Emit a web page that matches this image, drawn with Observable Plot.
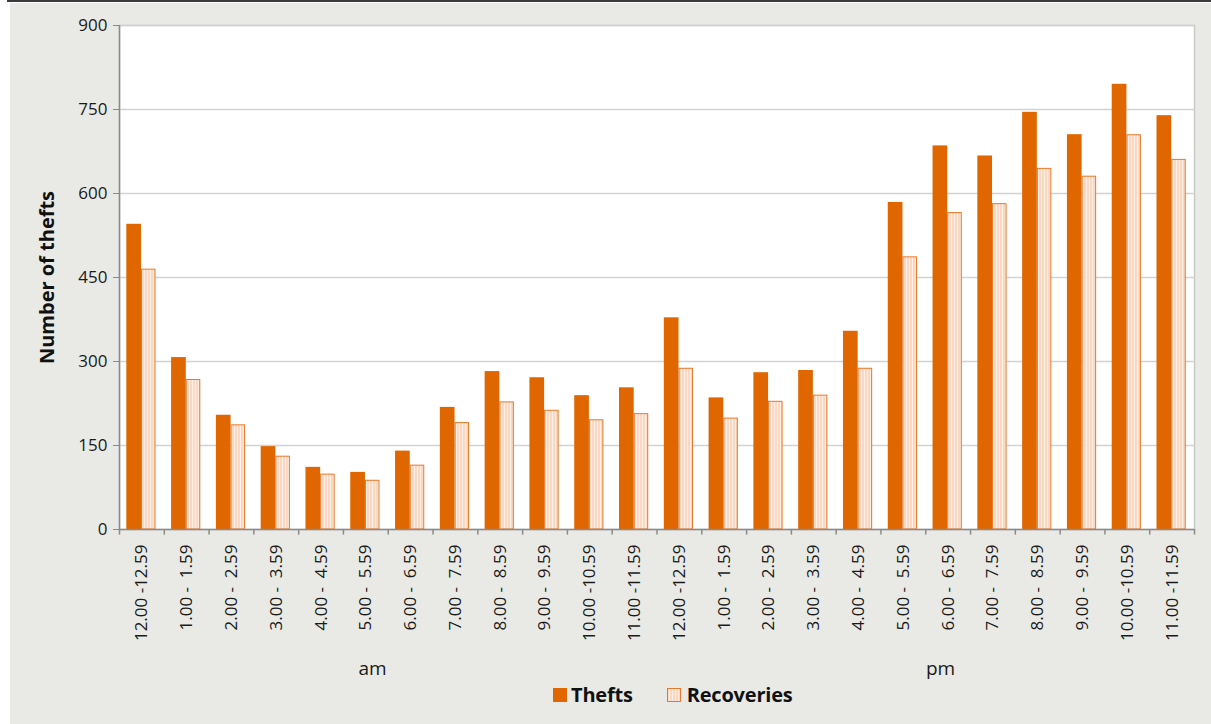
<!DOCTYPE html>
<html>
<head>
<meta charset="utf-8">
<script src="https://cdn.jsdelivr.net/npm/d3@7"></script>
<script src="https://cdn.jsdelivr.net/npm/@observablehq/plot@0.6"></script>
<style>
  html, body { margin: 0; padding: 0; background: #ffffff; width: 1211px; height: 724px; overflow: hidden; }
  #topline { position: absolute; left: 7px; top: 0; width: 1204px; height: 2px; background: #3a3a3a; }
  #wrap { position: absolute; left: 10px; top: 3px; width: 1201px; height: 721px; background: #e9eae6; font-family: "Open Sans", sans-serif; }
  #legend { position: absolute; left: 543px; top: 678px; display: flex; align-items: center; font-weight: bold; font-size: 20px; color: #111; letter-spacing: -0.2px; }
  .sw { width: 14px; height: 14px; display: inline-block; margin-right: 4px; box-sizing: border-box; }
  .item { display: flex; align-items: center; }
</style>
</head>
<body>
<div id="topline"></div>
<div id="wrap">
  <div id="chart"></div>
  <div id="legend"></div>
</div>
<script>
const hours = ["12.00 -12.59","1.00 -\u00a0\u00a01.59","2.00 -\u00a0\u00a02.59","3.00 -\u00a0\u00a03.59","4.00 -\u00a0\u00a04.59","5.00 -\u00a0\u00a05.59","6.00 -\u00a0\u00a06.59","7.00 -\u00a0\u00a07.59","8.00 -\u00a0\u00a08.59","9.00 -\u00a0\u00a09.59","10.00 -10.59","11.00 -11.59",
               "12.00 -12.59","1.00 -\u00a0\u00a01.59","2.00 -\u00a0\u00a02.59","3.00 -\u00a0\u00a03.59","4.00 -\u00a0\u00a04.59","5.00 -\u00a0\u00a05.59","6.00 -\u00a0\u00a06.59","7.00 -\u00a0\u00a07.59","8.00 -\u00a0\u00a08.59","9.00 -\u00a0\u00a09.59","10.00 -10.59","11.00 -11.59"];
const periods = ["am", "pm"];
const thefts =     [545, 307, 204, 148, 111, 102, 140, 218, 282, 271, 239, 253, 378, 235, 280, 284, 354, 584, 685, 667, 745, 705, 795, 739];
const recoveries = [464, 267, 186, 130,  98,  87, 114, 190, 227, 212, 195, 206, 287, 198, 228, 239, 287, 486, 565, 581, 644, 630, 704, 660];
const seriesNames = ["Thefts", "Recoveries"];
const yTicks = [0, 150, 300, 450, 600, 750, 900];

const rows = hours.map((h, i) => ({i, hour: h, thefts: thefts[i], recoveries: recoveries[i]}));

const W = 1201, H = 677, mL = 109, mR = 17, mT = 22, mB = 151;
const bw = (W - mL - mR) / hours.length;
const theftColor = "#e06600";
const recStroke = "#e8782a";
const axisGray = "#8a8a8a";

const chart = Plot.plot({
  width: W, height: H,
  marginLeft: mL, marginRight: mR, marginTop: mT, marginBottom: mB,
  style: {background: "transparent", fontFamily: "'Open Sans', sans-serif", color: "#1a1a1a"},
  x: {type: "band", domain: d3.range(hours.length), padding: 0, round: false, axis: null},
  y: {domain: [0, 900], axis: null},
  marks: [
    Plot.frame({fill: "white", stroke: "#c9c9c9", strokeWidth: 1.5}),
    Plot.gridY(yTicks.slice(1), {stroke: "#d2d2d2", strokeOpacity: 1, strokeWidth: 1.5}),
    Plot.barY(rows, {x: "i", y: "thefts", fill: theftColor, insetLeft: 7.3, insetRight: bw - 22}),
    Plot.barY(rows, {x: "i", y: "recoveries", fill: "url(#recpat)", stroke: recStroke, strokeWidth: 1, insetLeft: 22.5, insetRight: bw - 36}),
    Plot.ruleX([0], {x: d => d, dx: -bw / 2, y1: 0, y2: 900, stroke: axisGray, strokeWidth: 1.5}),
    Plot.ruleY([0], {stroke: axisGray, strokeWidth: 1.5}),
    Plot.ruleX(rows, {x: "i", dx: -bw / 2, y1: 0, y2: -10, stroke: axisGray, strokeWidth: 1.5}),
    Plot.ruleX([hours.length - 1], {x: d => d, dx: bw / 2, y1: 0, y2: -10, stroke: axisGray, strokeWidth: 1.5}),
    Plot.axisY(yTicks, {tickSize: 6, tickPadding: 6, fontSize: 17, stroke: axisGray, fill: "#1a1a1a", label: null}),
    Plot.axisX(d3.range(hours.length), {tickSize: 0, tickPadding: 15, tickRotate: -90, fontSize: 17, fill: "#1a1a1a", tickFormat: i => hours[i], label: null}),
    Plot.text([periods[0]], {x: () => 5, dx: 6.7, frameAnchor: "bottom", dy: 145, fontSize: 19, fill: "#1a1a1a", text: d => d}),
    Plot.text([periods[1]], {x: () => 18, dx: -7.6, frameAnchor: "bottom", dy: 145, fontSize: 19, fill: "#1a1a1a", text: d => d}),
    Plot.text(["Number of thefts"], {frameAnchor: "left", textAnchor: "middle", rotate: -90, dx: -72, fontSize: 20, fontWeight: "bold", fill: "#111"})
  ]
});

const ns = "http://www.w3.org/2000/svg";
const defs = document.createElementNS(ns, "defs");
defs.innerHTML = `<pattern id="recpat" patternUnits="userSpaceOnUse" width="3" height="4">
  <rect width="3" height="4" fill="#fad9c4"/>
  <rect x="2" width="1" height="4" fill="#fdefe6"/>
</pattern>
<pattern id="recpat2" patternUnits="userSpaceOnUse" width="3" height="4">
  <rect width="3" height="4" fill="#fad9c4"/>
  <rect x="2" width="1" height="4" fill="#fdefe6"/>
</pattern>`;
chart.insertBefore(defs, chart.firstChild);
document.getElementById("chart").appendChild(chart);

const legend = document.getElementById("legend");
legend.innerHTML = `
  <span class="item"><span class="sw" style="background:${theftColor}"></span>${seriesNames[0]}</span>
  <span class="item" style="margin-left:34px"><svg width="14" height="14" style="margin-right:6px"><rect x="0.5" y="0.5" width="13" height="13" fill="url(#recpat2)" stroke="${recStroke}"/></svg>${seriesNames[1]}</span>`;
</script>
</body>
</html>
